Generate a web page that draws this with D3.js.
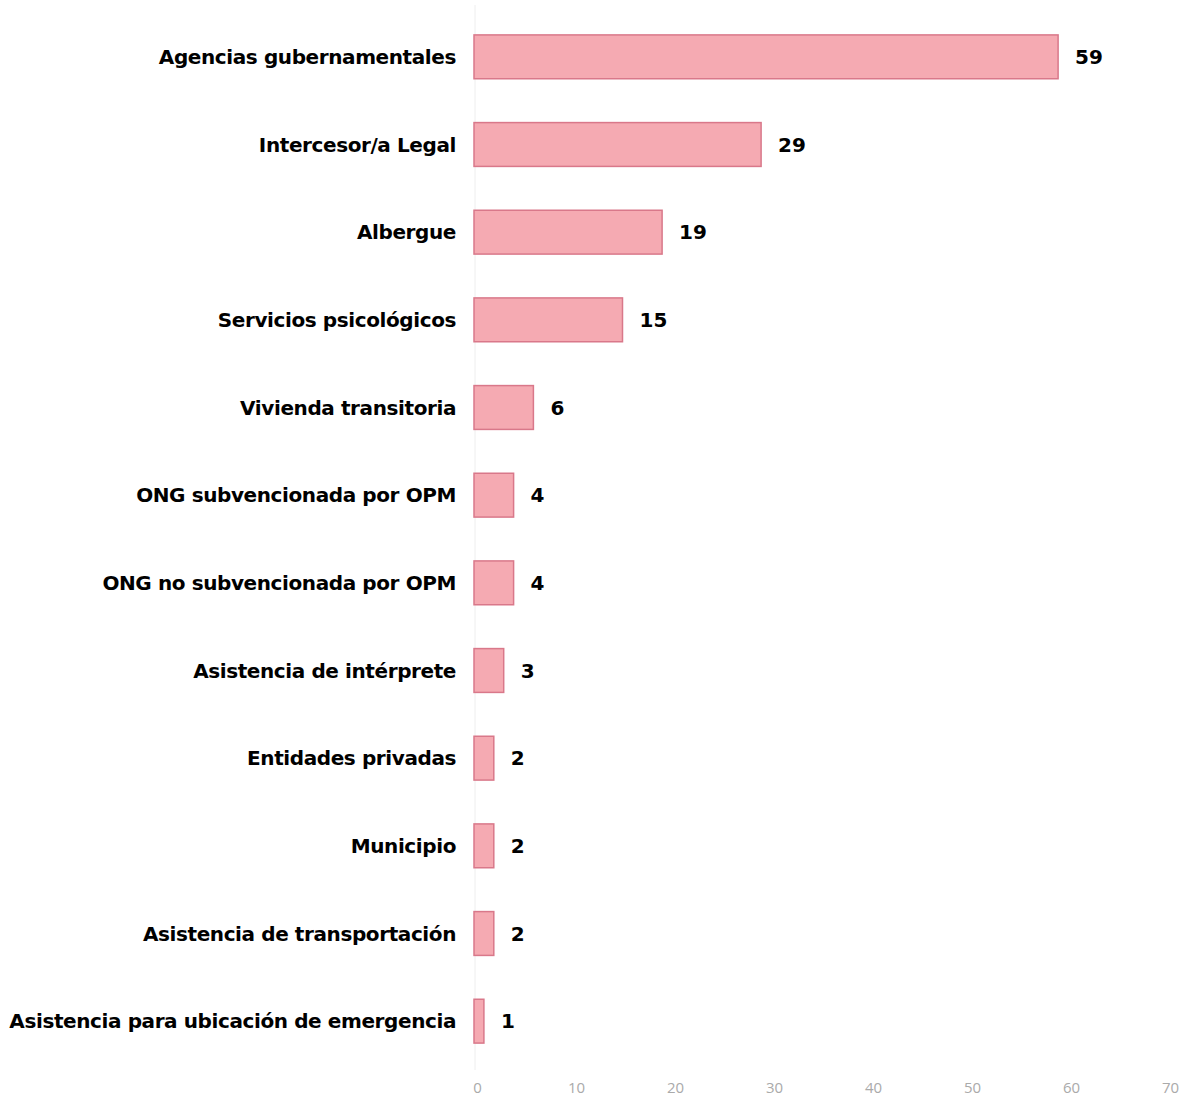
<!DOCTYPE html>
<html><head><meta charset="utf-8">
<script src="https://cdn.jsdelivr.net/npm/d3@7"></script>
<style>body{margin:0;background:#fff;} svg{display:block;}</style>
</head><body>
<svg id="c" width="1193" height="1098"></svg>
<script>
const categories = ["Agencias gubernamentales","Intercesor/a Legal","Albergue","Servicios psicológicos","Vivienda transitoria","ONG subvencionada por OPM","ONG no subvencionada por OPM","Asistencia de intérprete","Entidades privadas","Municipio","Asistencia de transportación","Asistencia para ubicación de emergencia"];
const values = [59,29,19,15,6,4,4,3,2,2,2,1];
const ticks = [0,10,20,30,40,50,60,70];

const svg = d3.select("#c");
const x = d3.scaleLinear().domain([0,70]).range([477,1170]);
const y = d3.scaleBand().domain(categories).range([13,1065]).paddingInner(0.5).paddingOuter(0.25);

svg.append("line").attr("x1",x(0)-2).attr("x2",x(0)-2).attr("y1",5).attr("y2",1070)
  .attr("stroke","#eeeeee").attr("stroke-width",1);

svg.selectAll("rect.bar").data(values).enter().append("rect")
  .attr("x",x(0)-3).attr("y",(d,i)=>y(categories[i]))
  .attr("width",d=>x(d)-x(0)).attr("height",y.bandwidth())
  .attr("fill","#f5aab2").attr("stroke","#d9788a").attr("stroke-width",1.5);

const font = "'DejaVu Sans', sans-serif";
svg.selectAll("text.cat").data(categories).enter().append("text")
  .attr("x",456).attr("y",d=>y(d)+y.bandwidth()/2).attr("dy","0.35em")
  .attr("text-anchor","end").attr("font-family",font).attr("font-weight","bold")
  .attr("font-size",20).attr("letter-spacing",-0.4).attr("fill","#000").text(d=>d);

svg.selectAll("text.val").data(values).enter().append("text")
  .attr("x",d=>x(d)+14).attr("y",(d,i)=>y(categories[i])+y.bandwidth()/2).attr("dy","0.35em")
  .attr("font-family",font).attr("font-weight","bold").attr("font-size",20).attr("fill","#000").text(d=>d);

const ax = svg.append("g").attr("transform","translate(0,1078)")
  .call(d3.axisBottom(x).tickValues(ticks).tickSize(0).tickPadding(4));
ax.select(".domain").remove();
ax.selectAll("text").attr("font-family","'Open Sans', sans-serif").attr("font-size",15).attr("fill","#aaaaaa");
</script>
</body></html>
